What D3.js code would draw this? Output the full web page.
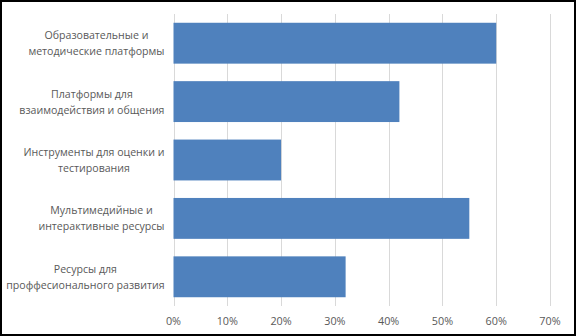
<!DOCTYPE html>
<html>
<head>
<meta charset="utf-8">
<script src="https://cdn.jsdelivr.net/npm/d3@7"></script>
<style>
  html, body { margin: 0; padding: 0; background: #fff; }
  svg { display: block; }
  text { font-family: "Open Sans", "Noto Sans", sans-serif; fill: #595959; }
</style>
</head>
<body>
<svg id="chart" width="576" height="336"></svg>
<script>
// Доля использования цифровых инструментов по категориям
const categories = [
  ["Образовательные и", "методические платформы"],
  ["Платформы для", "взаимодействия и общения"],
  ["Инструменты для оценки и", "тестирования"],
  ["Мультимедийные и", "интерактивные ресурсы"],
  ["Ресурсы для", "проффесионального развития"]
];
const values = [0.60, 0.42, 0.20, 0.55, 0.32];
const tickValues = [0, 0.1, 0.2, 0.3, 0.4, 0.5, 0.6, 0.7];

const W = 576, H = 336;
const svg = d3.select("#chart");

// Рамка вокруг области диаграммы
svg.append("rect")
  .attr("x", 1).attr("y", 1).attr("width", W - 2).attr("height", H - 2)
  .attr("fill", "#fff").attr("stroke", "#000").attr("stroke-width", 2);

const plot = { left: 173.5, right: 550, top: 14, bottom: 306 };

const x = d3.scaleLinear().domain([0, 0.7]).range([plot.left, plot.right]);
const y = d3.scaleBand()
  .domain(d3.range(categories.length))
  .range([plot.top, plot.bottom])
  .paddingInner(0.3).paddingOuter(0.15);

// Вертикальные линии сетки
svg.append("g")
  .selectAll("line")
  .data(tickValues)
  .join("line")
  .attr("x1", d => Math.round(x(d)) + 0.5)
  .attr("x2", d => Math.round(x(d)) + 0.5)
  .attr("y1", plot.top)
  .attr("y2", plot.bottom)
  .attr("stroke", "#d9d9d9")
  .attr("stroke-width", 1);

// Столбцы
svg.append("g")
  .selectAll("rect")
  .data(values)
  .join("rect")
  .attr("x", x(0))
  .attr("y", (d, i) => y(i))
  .attr("width", d => x(d) - x(0))
  .attr("height", y.bandwidth())
  .attr("fill", "#4f81bd");

// Подписи оси X
const fmt = d3.format(".0%");
svg.append("g")
  .selectAll("text")
  .data(tickValues)
  .join("text")
  .attr("x", d => x(d))
  .attr("y", 325)
  .attr("text-anchor", "middle")
  .attr("font-size", 10.8)
  .text(d => fmt(d));

// Подписи категорий: строки центрированы, блок прижат к оси
const labelRight = 164.5;
const lineH = 16;
categories.forEach((lines, i) => {
  const g = svg.append("g");
  const texts = lines.map((ln, j) => g.append("text")
    .attr("font-size", 10.6)
    .attr("text-anchor", "middle")
    .attr("y", y(i) + y.bandwidth() / 2 + (j - (lines.length - 1) / 2) * lineH + 4)
    .text(ln));
  const maxW = d3.max(texts, t => t.node().getComputedTextLength());
  texts.forEach(t => t.attr("x", labelRight - maxW / 2));
});
</script>
</body>
</html>
